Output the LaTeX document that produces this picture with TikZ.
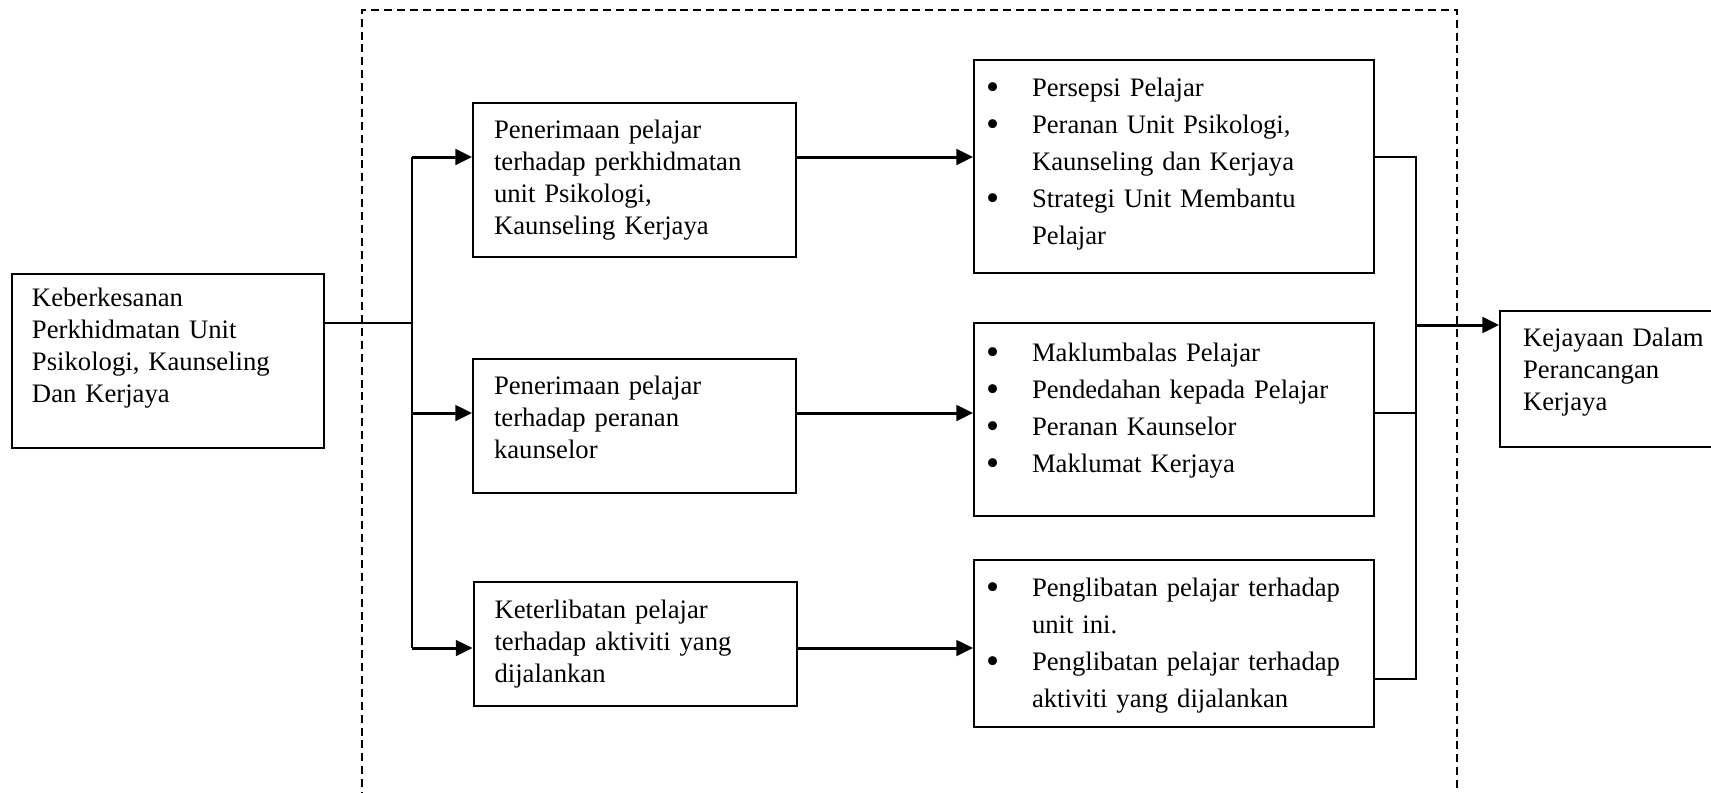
\documentclass[tikz,border=0pt]{standalone}
\usepackage{fontspec}
\setmainfont{Liberation Serif}
\usetikzlibrary{arrows.meta, calc}
\newcommand{\itm}{\par\hangindent=20.7pt\hangafter=1\noindent\makebox[20.7pt][l]{\raisebox{-1.2pt}{\scalebox{1.4}{\textbullet}}}}
\newcommand{\lift}[1]{\par\hrule height #1 width 0pt depth 0pt}

\begin{document}
\begin{tikzpicture}[x=0.45pt, y=-0.45pt,
  box/.style={draw, line width=0.9pt, align=left, inner ysep=0pt, font=\fontsize{12}{14.4}\selectfont},
  listbox/.style={draw, line width=0.9pt, align=left, text width=169.2pt, inner xsep=5.4pt, inner ysep=0pt, minimum height=#1, font=\fontsize{12}{16.6}\selectfont},
  link/.style={line width=0.9pt},
  arr/.style={line width=1.35pt, -{Triangle[length=7.5pt, width=7pt]}}]
  \useasboundingbox (0,0) rectangle (1711,792);

  % Frame
  \draw[line width=0.7pt, dash pattern=on 3.6pt off 2.2pt] (362,800) |- (1457,10) -- (1457,800);

  % Input
  \node[box, text width=122.4pt, inner xsep=9pt, minimum height=78.3pt] (kpu) at (168,361) {Keberkesanan\\ Perkhidmatan Unit\\ Psikologi, Kaunseling\\ Dan Kerjaya\lift{11.7pt}};

  % Factors
  \node[box, text width=126.45pt, inner xsep=9.45pt, minimum height=69.3pt] (terima) at (634.5,180) {Penerimaan pelajar\\ terhadap perkhidmatan\\ unit Psikologi,\\ Kaunseling Kerjaya};
  \node[box, text width=126.45pt, inner xsep=9.45pt, minimum height=60.3pt] (peranan) at (634.5,426) {Penerimaan pelajar\\ terhadap peranan\\ kaunselor\lift{7.8pt}};
  \node[box, text width=126.45pt, inner xsep=9.45pt, minimum height=55.8pt] (aktiviti) at (635,644) {Keterlibatan pelajar\\ terhadap aktiviti yang\\ dijalankan};

  % Items
  \node[listbox=95.85pt] (persepsi) at (1174,166.5) {\itm Persepsi Pelajar \itm Peranan Unit Psikologi,\newline Kaunseling dan Kerjaya \itm Strategi Unit Membantu\newline Pelajar\lift{10.5pt}};
  \node[listbox=86.85pt] (maklum) at (1174,419.5) {\itm Maklumbalas Pelajar \itm Pendedahan kepada Pelajar \itm Peranan Kaunselor \itm Maklumat Kerjaya\lift{16pt}};
  \node[listbox=75.15pt] (glibat) at (1174,643.5) {\itm Penglibatan pelajar terhadap\newline unit ini. \itm Penglibatan pelajar terhadap\newline aktiviti yang dijalankan\lift{6.2pt}};

  % Output
  \node[box, text width=90pt, inner xsep=10.35pt, minimum height=61.2pt] (jaya) at (1623,379) {Kejayaan Dalam\\ Perancangan\\ Kerjaya\lift{5.9pt}};

  % Junctions
  \coordinate (split) at (412,323);
  \coordinate (t1) at (412,157);
  \coordinate (t2) at (412,413);
  \coordinate (t3) at (412,648);
  \coordinate (r1) at (1416,157);
  \coordinate (r2) at (1416,413);
  \coordinate (r3) at (1416,679);
  \coordinate (rc) at (1416,325);

  % Connectors
  \draw[link] (split -| kpu.east) -- (split);
  \draw[link] (t1) -- (t3);
  \draw[arr] (t1) -- (t1 -| terima.west);
  \draw[arr] (t2) -- (t2 -| peranan.west);
  \draw[arr] (t3) -- (t3 -| aktiviti.west);
  \draw[arr] (t1 -| terima.east) -- (t1 -| persepsi.west);
  \draw[arr] (t2 -| peranan.east) -- (t2 -| maklum.west);
  \draw[arr] (t3 -| aktiviti.east) -- (t3 -| glibat.west);
  \draw[link] (r1 -| persepsi.east) -- (r1) -- (r3) -- (r3 -| glibat.east);
  \draw[link] (r2 -| maklum.east) -- (r2);
  \draw[arr] (rc) -- (rc -| jaya.west);
\end{tikzpicture}
\end{document}
